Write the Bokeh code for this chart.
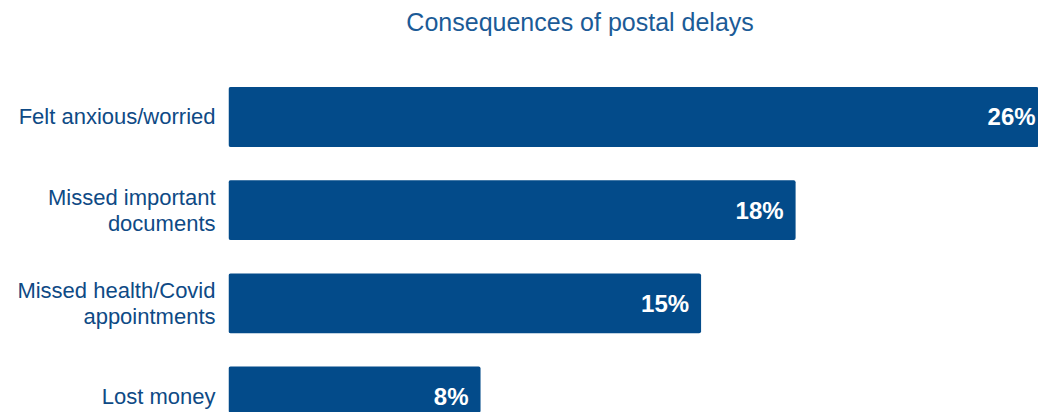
import numpy as np
from bokeh.plotting import figure
from bokeh.models import ColumnDataSource, Range1d, FixedTicker, Label
from bokeh.core.properties import value
from bokeh.embed import file_html
from bokeh.resources import INLINE

title_text = "Consequences of postal delays"
categories = ["Felt anxious/worried", "Missed important\ndocuments",
              "Missed health/Covid\nappointments", "Lost money"]
values = [26, 18, 15, 8]
value_labels = ["26%", "18%", "15%", "8%"]

n = len(categories)
positions = list(range(n - 1, -1, -1))

BAR = "#034b8a"
TXT = "#0e4a85"
FONT = "Liberation Sans"

src = ColumnDataSource(dict(y=positions, v=values, lab=value_labels))

p = figure(width=1038, height=412, output_backend="svg", toolbar_location=None,
           x_range=Range1d(0, 25.71), y_range=Range1d(-0.1715, 4.250),
           x_axis_location=None, min_border_left=228, min_border_right=0,
           min_border_bottom=0, min_border_top=0)
p.outline_line_color = None
p.grid.visible = False

p.add_layout(Label(x=11.16, y=391, x_units="data", y_units="screen",
                   text=title_text, text_align="center", text_baseline="alphabetic",
                   text_font=FONT, text_font_size="25px", text_color="#1b5b97"))

p.hbar(y="y", right="v", left=0, height=0.643, source=src, fill_color=BAR,
       line_color=None, border_radius=2)
p.text(x="v", y="y", text="lab", source=src, x_offset=-12, text_align="right",
       text_baseline="middle", text_color="white", text_font=value(FONT),
       text_font_size="24px", text_font_style="bold")

ax = p.yaxis[0]
ax.ticker = FixedTicker(ticks=positions)
ax.major_label_overrides = {pos: cat for pos, cat in zip(positions, categories)}
ax.axis_line_color = None
ax.major_tick_line_color = None
ax.minor_tick_line_color = None
ax.major_tick_out = 0
ax.major_tick_in = 0
ax.major_label_standoff = 13
ax.major_label_text_font = FONT
ax.major_label_text_font_size = "22px"
ax.major_label_text_color = TXT
ax.major_label_text_line_height = 1.05

open("out.html", "w").write(file_html(p, INLINE))
